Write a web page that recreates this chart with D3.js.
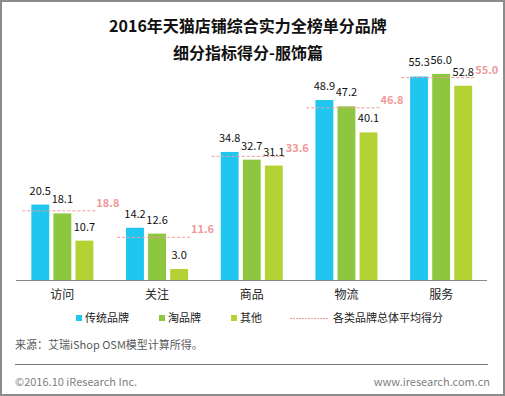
<!DOCTYPE html>
<html>
<head>
<meta charset="utf-8">
<script src="https://cdn.jsdelivr.net/npm/d3@7/dist/d3.min.js"></script>
<style>
body { margin: 0; background: #fff; }
svg { display: block; font-family: "Noto Sans CJK SC", "Noto Sans", sans-serif; }
</style>
</head>
<body>
<svg width="505" height="396"></svg>
<script>

var categories = ["访问", "关注", "商品", "物流", "服务"];
var seriesNames = ["传统品牌", "淘品牌", "其他"];
var traditional = [20.5, 14.2, 34.8, 48.9, 55.3];
var taobao = [18.1, 12.6, 32.7, 47.2, 56.0];
var others = [10.7, 3.0, 31.1, 40.1, 52.8];
var average = [18.8, 11.6, 33.6, 46.8, 55.0];
var colors = ["#1fc6ef", "#8dc63f", "#b4d233"];
var avgColor = "#f09a9a";

var svg = d3.select("svg"),
    width = +svg.attr("width"),
    height = +svg.attr("height");

// frame
svg.append("rect")
    .attr("x", 1).attr("y", 1)
    .attr("width", width - 2).attr("height", height - 2)
    .attr("fill", "#fff")
    .attr("stroke", "#8c8c8c")
    .attr("stroke-width", 2);

// title
svg.append("text")
    .attr("x", 248).attr("y", 32)
    .attr("text-anchor", "middle")
    .attr("font-size", 16).attr("font-weight", "bold")
    .attr("fill", "#111")
    .text("2016年天猫店铺综合实力全榜单分品牌");
svg.append("text")
    .attr("x", 248).attr("y", 59)
    .attr("text-anchor", "middle")
    .attr("font-size", 16).attr("font-weight", "bold")
    .attr("fill", "#111")
    .text("细分指标得分-服饰篇");

var x = d3.scaleBand()
    .domain(categories)
    .range([15, 488.5]);

var x1 = d3.scaleBand()
    .domain(d3.range(3))
    .range([-31, 31])
    .paddingInner(0.19);

var y = d3.scaleLinear()
    .domain([0, 60])
    .range([280, 59.2]);

var rows = categories.map(function(c, i) {
  return { cat: c, vals: [traditional[i], taobao[i], others[i]], avg: average[i] };
});

var group = svg.append("g").selectAll("g")
    .data(rows)
    .enter().append("g")
    .attr("transform", function(d) { return "translate(" + (x(d.cat) + x.bandwidth() / 2) + ",0)"; });

group.selectAll("rect")
    .data(function(d) { return d.vals; })
    .enter().append("rect")
    .attr("x", function(d, i) { return x1(i); })
    .attr("width", x1.bandwidth())
    .attr("y", function(d) { return y(d); })
    .attr("height", function(d) { return y(0) - y(d); })
    .attr("fill", function(d, i) { return colors[i]; });

group.selectAll("text.val")
    .data(function(d) { return d.vals; })
    .enter().append("text")
    .attr("class", "val")
    .attr("x", function(d, i) { return x1(i) + x1.bandwidth() / 2; })
    .attr("y", function(d) { return y(d) - 10; })
    .attr("text-anchor", "middle")
    .attr("font-size", 11)
    .attr("fill", "#111")
    .text(function(d) { return d.toFixed(1); });

// average lines
group.append("line")
    .attr("x1", -40).attr("x2", 35)
    .attr("y1", function(d) { return y(d.avg); })
    .attr("y2", function(d) { return y(d.avg); })
    .attr("stroke", avgColor)
    .attr("stroke-width", 1)
    .attr("stroke-dasharray", "3,2");

group.append("text")
    .attr("x", 34)
    .attr("y", function(d) { return y(d.avg) - 4; })
    .attr("font-size", 11)
    .attr("font-weight", "bold")
    .attr("fill", avgColor)
    .text(function(d) { return d.avg.toFixed(1); });

// axis
svg.append("line")
    .attr("x1", 16).attr("x2", 487)
    .attr("y1", y(0) + 0.5).attr("y2", y(0) + 0.5)
    .attr("stroke", "#888");

svg.append("g").selectAll("text")
    .data(categories)
    .enter().append("text")
    .attr("x", function(d) { return x(d) + x.bandwidth() / 2; })
    .attr("y", 299)
    .attr("text-anchor", "middle")
    .attr("font-size", 12)
    .attr("fill", "#222")
    .text(function(d) { return d; });

// legend
var legendX = [76, 159, 231];
var legend = svg.append("g");
seriesNames.forEach(function(name, i) {
  legend.append("rect")
      .attr("x", legendX[i]).attr("y", 315)
      .attr("width", 6).attr("height", 6)
      .attr("fill", colors[i]);
  legend.append("text")
      .attr("x", legendX[i] + 9).attr("y", 322)
      .attr("font-size", 11)
      .attr("fill", "#222")
      .text(name);
});
legend.append("line")
    .attr("x1", 290).attr("x2", 328)
    .attr("y1", 318.5).attr("y2", 318.5)
    .attr("stroke", avgColor)
    .attr("stroke-dasharray", "2,1");
legend.append("text")
    .attr("x", 333).attr("y", 322)
    .attr("font-size", 11)
    .attr("fill", "#222")
    .text("各类品牌总体平均得分");

// source and footer
svg.append("text")
    .attr("x", 15).attr("y", 349)
    .attr("font-size", 11)
    .attr("fill", "#595959")
    .text("来源：艾瑞iShop OSM模型计算所得。");

svg.append("line")
    .attr("x1", 15).attr("x2", 488)
    .attr("y1", 364.5).attr("y2", 364.5)
    .attr("stroke", "#777");

svg.append("text")
    .attr("x", 15).attr("y", 386)
    .attr("font-size", 11)
    .attr("fill", "#7f7f7f")
    .text("©2016.10 iResearch Inc.");

svg.append("text")
    .attr("x", 490).attr("y", 386)
    .attr("text-anchor", "end")
    .attr("font-size", 11)
    .attr("fill", "#7f7f7f")
    .text("www.iresearch.com.cn");

</script>
</body>
</html>
